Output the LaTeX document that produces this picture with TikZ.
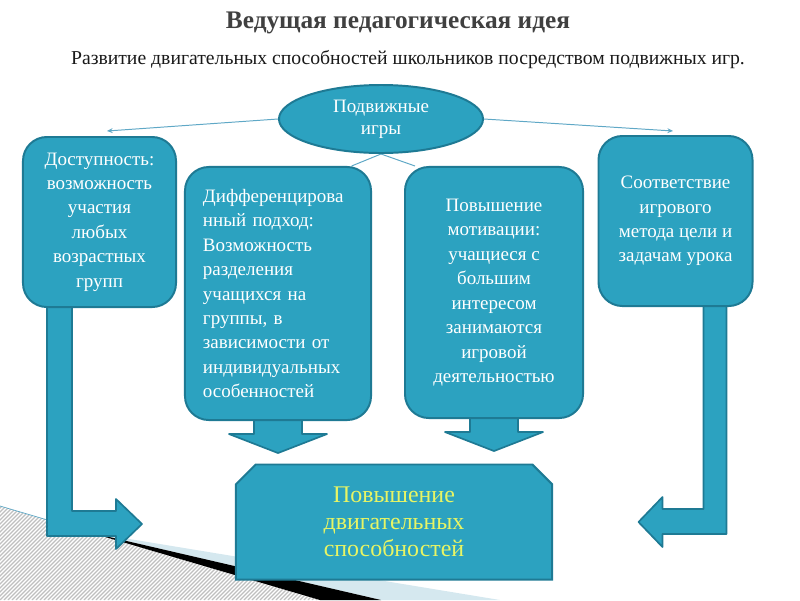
\documentclass[tikz,border=0pt]{standalone}
\usepackage{fontspec}
\setmainfont{Liberation Serif}
\usetikzlibrary{shapes.geometric,shapes.misc,calc,arrows.meta,backgrounds}
\definecolor{cteal}{RGB}{44,162,192}
\definecolor{cedge}{RGB}{30,122,148}
\definecolor{cthin}{RGB}{95,168,198}
\definecolor{cpale}{RGB}{213,232,239}
\definecolor{cyellow}{RGB}{232,245,100}
\tikzset{
  slide/.style={x=0.025cm,y=-0.025cm},
  card/.style={draw=cedge,line width=1.4pt,fill=cteal,text=white,
    font=\fontsize{13.5}{17.4}\selectfont,align=center,inner sep=0pt},
  roundcard/.style={card,rounded corners=17pt},
  blockarrow/.style={draw=cedge,line width=1.2pt,fill=cteal,line join=round},
  twig/.style={cthin,line width=0.7pt},
}

\begin{document}
\begin{tikzpicture}[slide]
    \useasboundingbox (0,0) rectangle (800,600);
    % headings
    \node[font=\bfseries\fontsize{18}{20}\selectfont,text=black!75] (title) at (398,23) {Ведущая педагогическая идея};
    \node[font=\fontsize{14}{16}\selectfont,text=black!90] (sub) at (408,60) {Развитие двигательных способностей школьников посредством подвижных игр.};
    % centre and four boxes
    \node[card,ellipse,minimum width=5.1cm,minimum height=1.7cm,font=\fontsize{13.5}{15.6}\selectfont] (games) at (381,119) {Подвижные\\игры};
    \node[roundcard,minimum width=3.825cm,minimum height=4.25cm] (access) at (99.5,222) {Доступность:\\возможность\\участия\\любых\\возрастных\\групп};
    \node[roundcard,minimum width=4.65cm,minimum height=6.325cm,text width=3.75cm,align=left] (diff) at (278,293.5) {Дифференцирова\\нный подход:\\Возможность\\разделения\\учащихся на\\группы, в\\зависимости от\\индивидуальных\\особенностей};
    \node[roundcard,minimum width=4.45cm,minimum height=6.275cm] (motiv) at (494,292.5) {Повышение\\мотивации:\\учащиеся с\\большим\\интересом\\занимаются\\игровой\\деятельностью};
    \node[roundcard,minimum width=3.85cm,minimum height=4.25cm] (goal) at (675.5,221) {Соответствие\\игрового\\метода цели и\\задачам урока};
    \node[card,chamfered rectangle,chamfered rectangle corners={north west,north east},
          chamfered rectangle xsep=7pt,chamfered rectangle ysep=7pt,
          minimum width=7.9cm,minimum height=2.875cm,text=cyellow,
          font=\fontsize{17}{19.2}\selectfont] (result) at (394,522) {Повышение\\двигательных\\способностей};
    \coordinate (tipL) at (107,131);
    \coordinate (tipR) at (673,131);
    \begin{pgfonlayer}{background}
      % slide decoration
      \begin{scope}
        \clip (0,506) -- (320,600) -- (0,600) -- cycle;
        \foreach \i in {-120,-116,...,330}
          \draw[black!25,line width=0.8pt] (\i,600) -- ++(120,-120);
      \end{scope}
      \fill[cpale] (90,532.5) -- (500,600) -- (381,600) -- cycle;
      \fill[black] (90,532.5) -- (381,600) -- (320,600) -- cycle;
      \draw[twig,line width=0.5pt] (0,506) -- (90,532.5);
      % block arrows
      \foreach \nd in {diff,motiv}
        \draw[blockarrow] ($(\nd.south)+(-24,-2)$) -- ++(48,0) -- ++(0,15) -- ++(25,0) -- ++(-49,19) -- ++(-49,-19) -- ++(25,0) -- cycle;
      \draw[blockarrow] ($(access.south west)+(25,-2)$) -- ++(25,0) -- ++(0,205) -- ++(44,0) -- ++(0,-12) -- ++(26,25) -- ++(-26,25) -- ++(0,-13) -- ++(-69,0) -- cycle;
      \draw[blockarrow] ($(goal.south east)+(-27,-2)$) -- ++(-23,0) -- ++(0,204) -- ++(-41,0) -- ++(0,-12) -- ++(-24,25) -- ++(24,25) -- ++(0,-13) -- ++(64,0) -- cycle;
      % thin connectors
      \draw[twig,-{Stealth[length=4pt,width=3.5pt]}] (games.west) -- (tipL);
      \draw[twig,-{Stealth[length=4pt,width=3.5pt]}] (games.east) -- (tipR);
      \draw[twig] (games.south) -- (diff.60);
      \draw[twig] (games.south) -- (motiv.122);
    \end{pgfonlayer}
\end{tikzpicture}
\end{document}
